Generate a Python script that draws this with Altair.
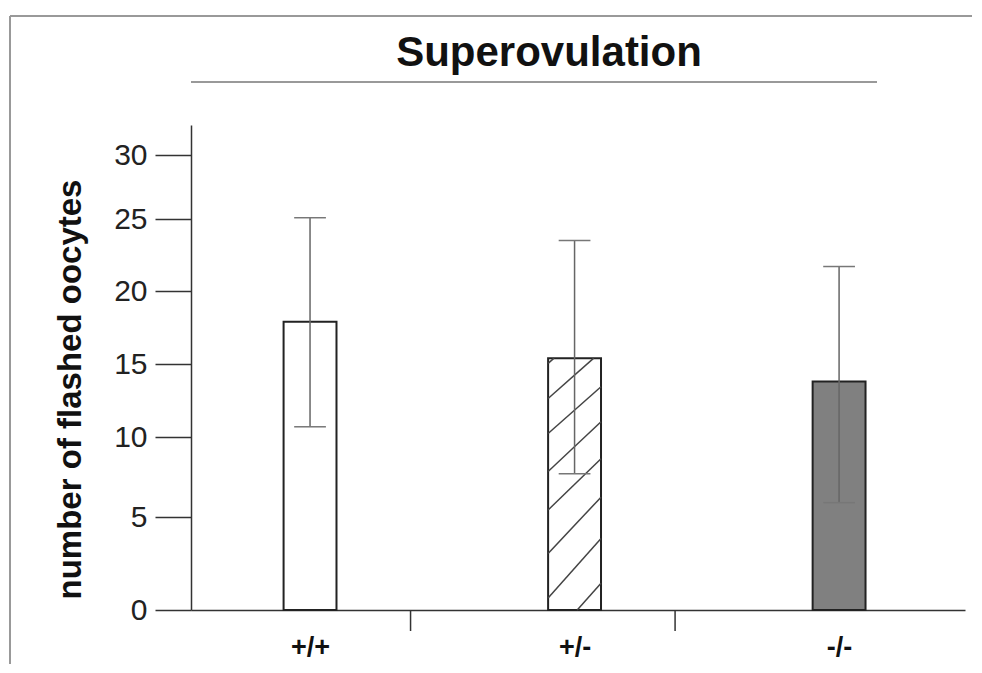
import json
import altair as alt
import pandas as pd

# ---- data ----
genotypes = ["+/+", "+/-", "-/-"]
positions = [0, 1, 2]
means = [17.9, 15.4, 13.8]
err_low = [10.7, 7.7, 5.9]
err_high = [25.1, 23.5, 21.7]
fills = ["#ffffff", "#ffffff", "#808080"]
y_ticks = [0, 5, 10, 15, 20, 25, 30]

# ---- style / scale configuration ----
W, H = 774, 485
FONT = "Liberation Sans"
# the original axis has uneven tick spacing: piecewise-linear scale
y_scale = alt.Scale(domain=[0, 5, 10, 15, 20, 25, 30, 32.35],
                    range=[485, 392, 312, 239, 166, 94, 30, 0],
                    zero=False, nice=False)
x_scale = alt.Scale(domain=[-0.45, 2.476], zero=False, nice=False)
BAR_HALF = 0.1
CAP_HALF = 0.06
SEP_OFFSET = 0.38

label_expr = "%s[datum.value]" % json.dumps(genotypes)

x_axis = alt.Axis(values=positions, labelExpr=label_expr, ticks=False, tickSize=0,
                  grid=False, title=None, labelFont=FONT, labelFontSize=27,
                  labelFontWeight="bold", labelColor="#111111", labelPadding=24,
                  domainColor="#333333", domainWidth=1.5)
y_axis = alt.Axis(values=y_ticks, grid=False, tickSize=36, tickColor="#333333",
                  tickWidth=1.5, domainColor="#333333", domainWidth=1.5,
                  labelFont=FONT, labelFontSize=30, labelColor="#222222",
                  labelPadding=8, title="number of flashed oocytes",
                  titleFont=FONT, titleFontSize=33, titleFontWeight="bold",
                  titleColor="#111111", titleX=-111, titleY=264,
                  titleAngle=270, titleAlign="center", titleBaseline="alphabetic")

df = pd.DataFrame({"genotype": genotypes, "pos": positions, "mean": means,
                   "lo": err_low, "hi": err_high, "fill": fills})

# hatch pattern for the heterozygous bar (decoration)
hatch_rise, hatch_step, hatch_phase = 3.2, 2.4, -1.76
segs = []
m, c = means[1], positions[1]
b = hatch_phase
while b < m:
    t0 = max(0.0, -b / hatch_rise)
    t1 = min(1.0, (m - b) / hatch_rise)
    if t0 < t1:
        segs.append({"hx": c - BAR_HALF + 2 * BAR_HALF * t0, "hy": b + hatch_rise * t0,
                     "hx2": c - BAR_HALF + 2 * BAR_HALF * t1, "hy2": b + hatch_rise * t1})
    b += hatch_step
hatch_df = pd.DataFrame(segs)

base = alt.Chart(df)

bars = base.transform_calculate(
    x0=f"datum.pos - {BAR_HALF}", x1=f"datum.pos + {BAR_HALF}", zero="0"
).mark_rect(stroke="#222222", strokeWidth=2).encode(
    x=alt.X("x0:Q", scale=x_scale, axis=x_axis),
    x2="x1:Q",
    y=alt.Y("mean:Q", scale=y_scale, axis=y_axis),
    y2="zero:Q",
    fill=alt.Fill("fill:N", scale=None),
)

hatch = alt.Chart(hatch_df).mark_rule(color="#444444", strokeWidth=1.5).encode(
    x=alt.X("hx:Q", scale=x_scale, axis=x_axis),
    x2="hx2:Q",
    y=alt.Y("hy:Q", scale=y_scale, axis=y_axis),
    y2="hy2:Q",
)

err = base.mark_rule(color="#666666", strokeWidth=1.5).encode(
    x=alt.X("pos:Q", scale=x_scale, axis=x_axis),
    y=alt.Y("lo:Q", scale=y_scale, axis=y_axis),
    y2="hi:Q",
)

caps_hi = base.transform_calculate(
    cl=f"datum.pos - {CAP_HALF}", cr=f"datum.pos + {CAP_HALF}"
).mark_rule(color="#777777", strokeWidth=1.5).encode(
    x=alt.X("cl:Q", scale=x_scale, axis=x_axis), x2="cr:Q",
    y=alt.Y("hi:Q", scale=y_scale, axis=y_axis),
)
caps_lo = base.transform_calculate(
    cl=f"datum.pos - {CAP_HALF}", cr=f"datum.pos + {CAP_HALF}"
).mark_rule(color="#777777", strokeWidth=1.5).encode(
    x=alt.X("cl:Q", scale=x_scale, axis=x_axis), x2="cr:Q",
    y=alt.Y("lo:Q", scale=y_scale, axis=y_axis),
)

separators = base.transform_filter(f"datum.pos < {max(positions)}").transform_calculate(
    sx=f"datum.pos + {SEP_OFFSET}"
).mark_rule(color="#333333", strokeWidth=1.5).encode(
    x=alt.X("sx:Q", scale=x_scale, axis=x_axis),
    y=alt.value(H), y2=alt.value(H + 21),
)

title_df = pd.DataFrame({"t": ["Superovulation"]})
title = alt.Chart(title_df).mark_text(
    font=FONT, fontSize=42, fontWeight="bold", color="#111111", align="center",
    baseline="alphabetic"
).encode(text="t:N", x=alt.value(358), y=alt.value(-59))

title_line = alt.Chart(title_df).mark_rule(color="#999999", strokeWidth=2).encode(
    x=alt.value(0), x2=alt.value(686), y=alt.value(-43))

frame_left = alt.Chart(title_df).mark_rule(color="#999999", strokeWidth=2).encode(
    x=alt.value(-181), y=alt.value(-109), y2=alt.value(560))
frame_top = alt.Chart(title_df).mark_rule(color="#999999", strokeWidth=2).encode(
    x=alt.value(-181), x2=alt.value(800), y=alt.value(-109))

chart = alt.layer(
    frame_left, frame_top, title, title_line,
    bars, hatch, err, caps_hi, caps_lo, separators,
).properties(
    width=W, height=H,
    autosize=alt.AutoSizeParams(type="none"),
    padding={"left": 183, "top": 117, "right": 7, "bottom": 54},
    background="white",
).configure_view(stroke=None)

chart.save("out.html", embed_options={"renderer": "svg", "actions": False})
